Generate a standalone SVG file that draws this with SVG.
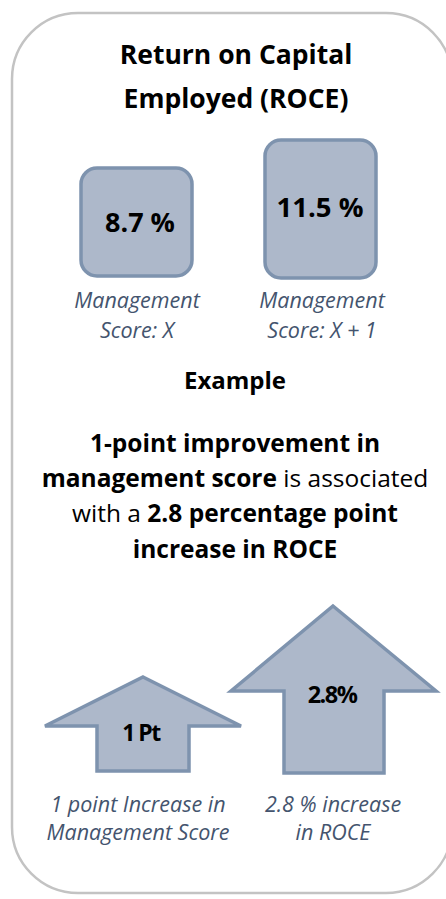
<svg xmlns="http://www.w3.org/2000/svg" width="446" height="899" viewBox="0 0 446 899">
<style>
.frame{fill:#fff;stroke:#c3c3c3;stroke-width:2.5}
.box{fill:#adb8ca;stroke:#7e93ae;stroke-width:3.5}
.t{font-family:"Open Sans","Liberation Sans",sans-serif;fill:#000;text-anchor:middle}
.b{font-weight:700}
.cap{font-family:"Open Sans","Liberation Sans",sans-serif;font-style:italic;fill:#44546e;text-anchor:middle;font-size:21.5px}
</style>
<rect x="12" y="13" width="440" height="880" rx="66" ry="66" class="frame"/>
<g id="title">
<text class="t b" x="236" y="64" font-size="26.5">Return on Capital</text>
<text class="t b" x="236" y="108" font-size="26.5">Employed (ROCE)</text>
</g>
<g id="box1">
<rect x="81" y="168" width="111" height="108" rx="16" class="box"/>
<text class="t b" x="140" y="232" font-size="27">8.7 %</text>
</g>
<g id="box2">
<rect x="265" y="140" width="111" height="138" rx="16" class="box"/>
<text class="t b" x="320" y="217" font-size="27.5">11.5 %</text>
</g>
<g id="label1">
<text class="cap" x="137" y="308">Management</text>
<text class="cap" x="137" y="338">Score: X</text>
</g>
<g id="label2">
<text class="cap" x="322" y="308">Management</text>
<text class="cap" x="322" y="338">Score: X + 1</text>
</g>
<g id="example">
<text class="t b" x="235" y="389" font-size="24">Example</text>
</g>
<g id="statement" font-size="24.5">
<text class="t b" x="235" y="452">1-point improvement in</text>
<text class="t" x="235" y="487"><tspan font-weight="700">management score</tspan> is associated</text>
<text class="t" x="235" y="522">with a <tspan font-weight="700">2.8 percentage point</tspan></text>
<text class="t b" x="235" y="558">increase in ROCE</text>
</g>
<g id="arrow1">
<polygon points="143,677 241,726 189,726 189,771 97,771 97,726 45,726" class="box" stroke-linejoin="miter"/>
<text class="t b" x="141" y="741" font-size="23" letter-spacing="-1.5">1 Pt</text>
</g>
<g id="arrow2">
<polygon points="333,606 436,691 384,691 384,773 284,773 284,691 231,691" class="box" stroke-linejoin="miter"/>
<text class="t b" x="332" y="703" font-size="23.5" letter-spacing="-1.5">2.8%</text>
</g>
<g id="caption1">
<text class="cap" x="138" y="812">1 point Increase in</text>
<text class="cap" x="138" y="840">Management Score</text>
</g>
<g id="caption2">
<text class="cap" x="333" y="812">2.8 % increase</text>
<text class="cap" x="333" y="840">in ROCE</text>
</g>
</svg>
